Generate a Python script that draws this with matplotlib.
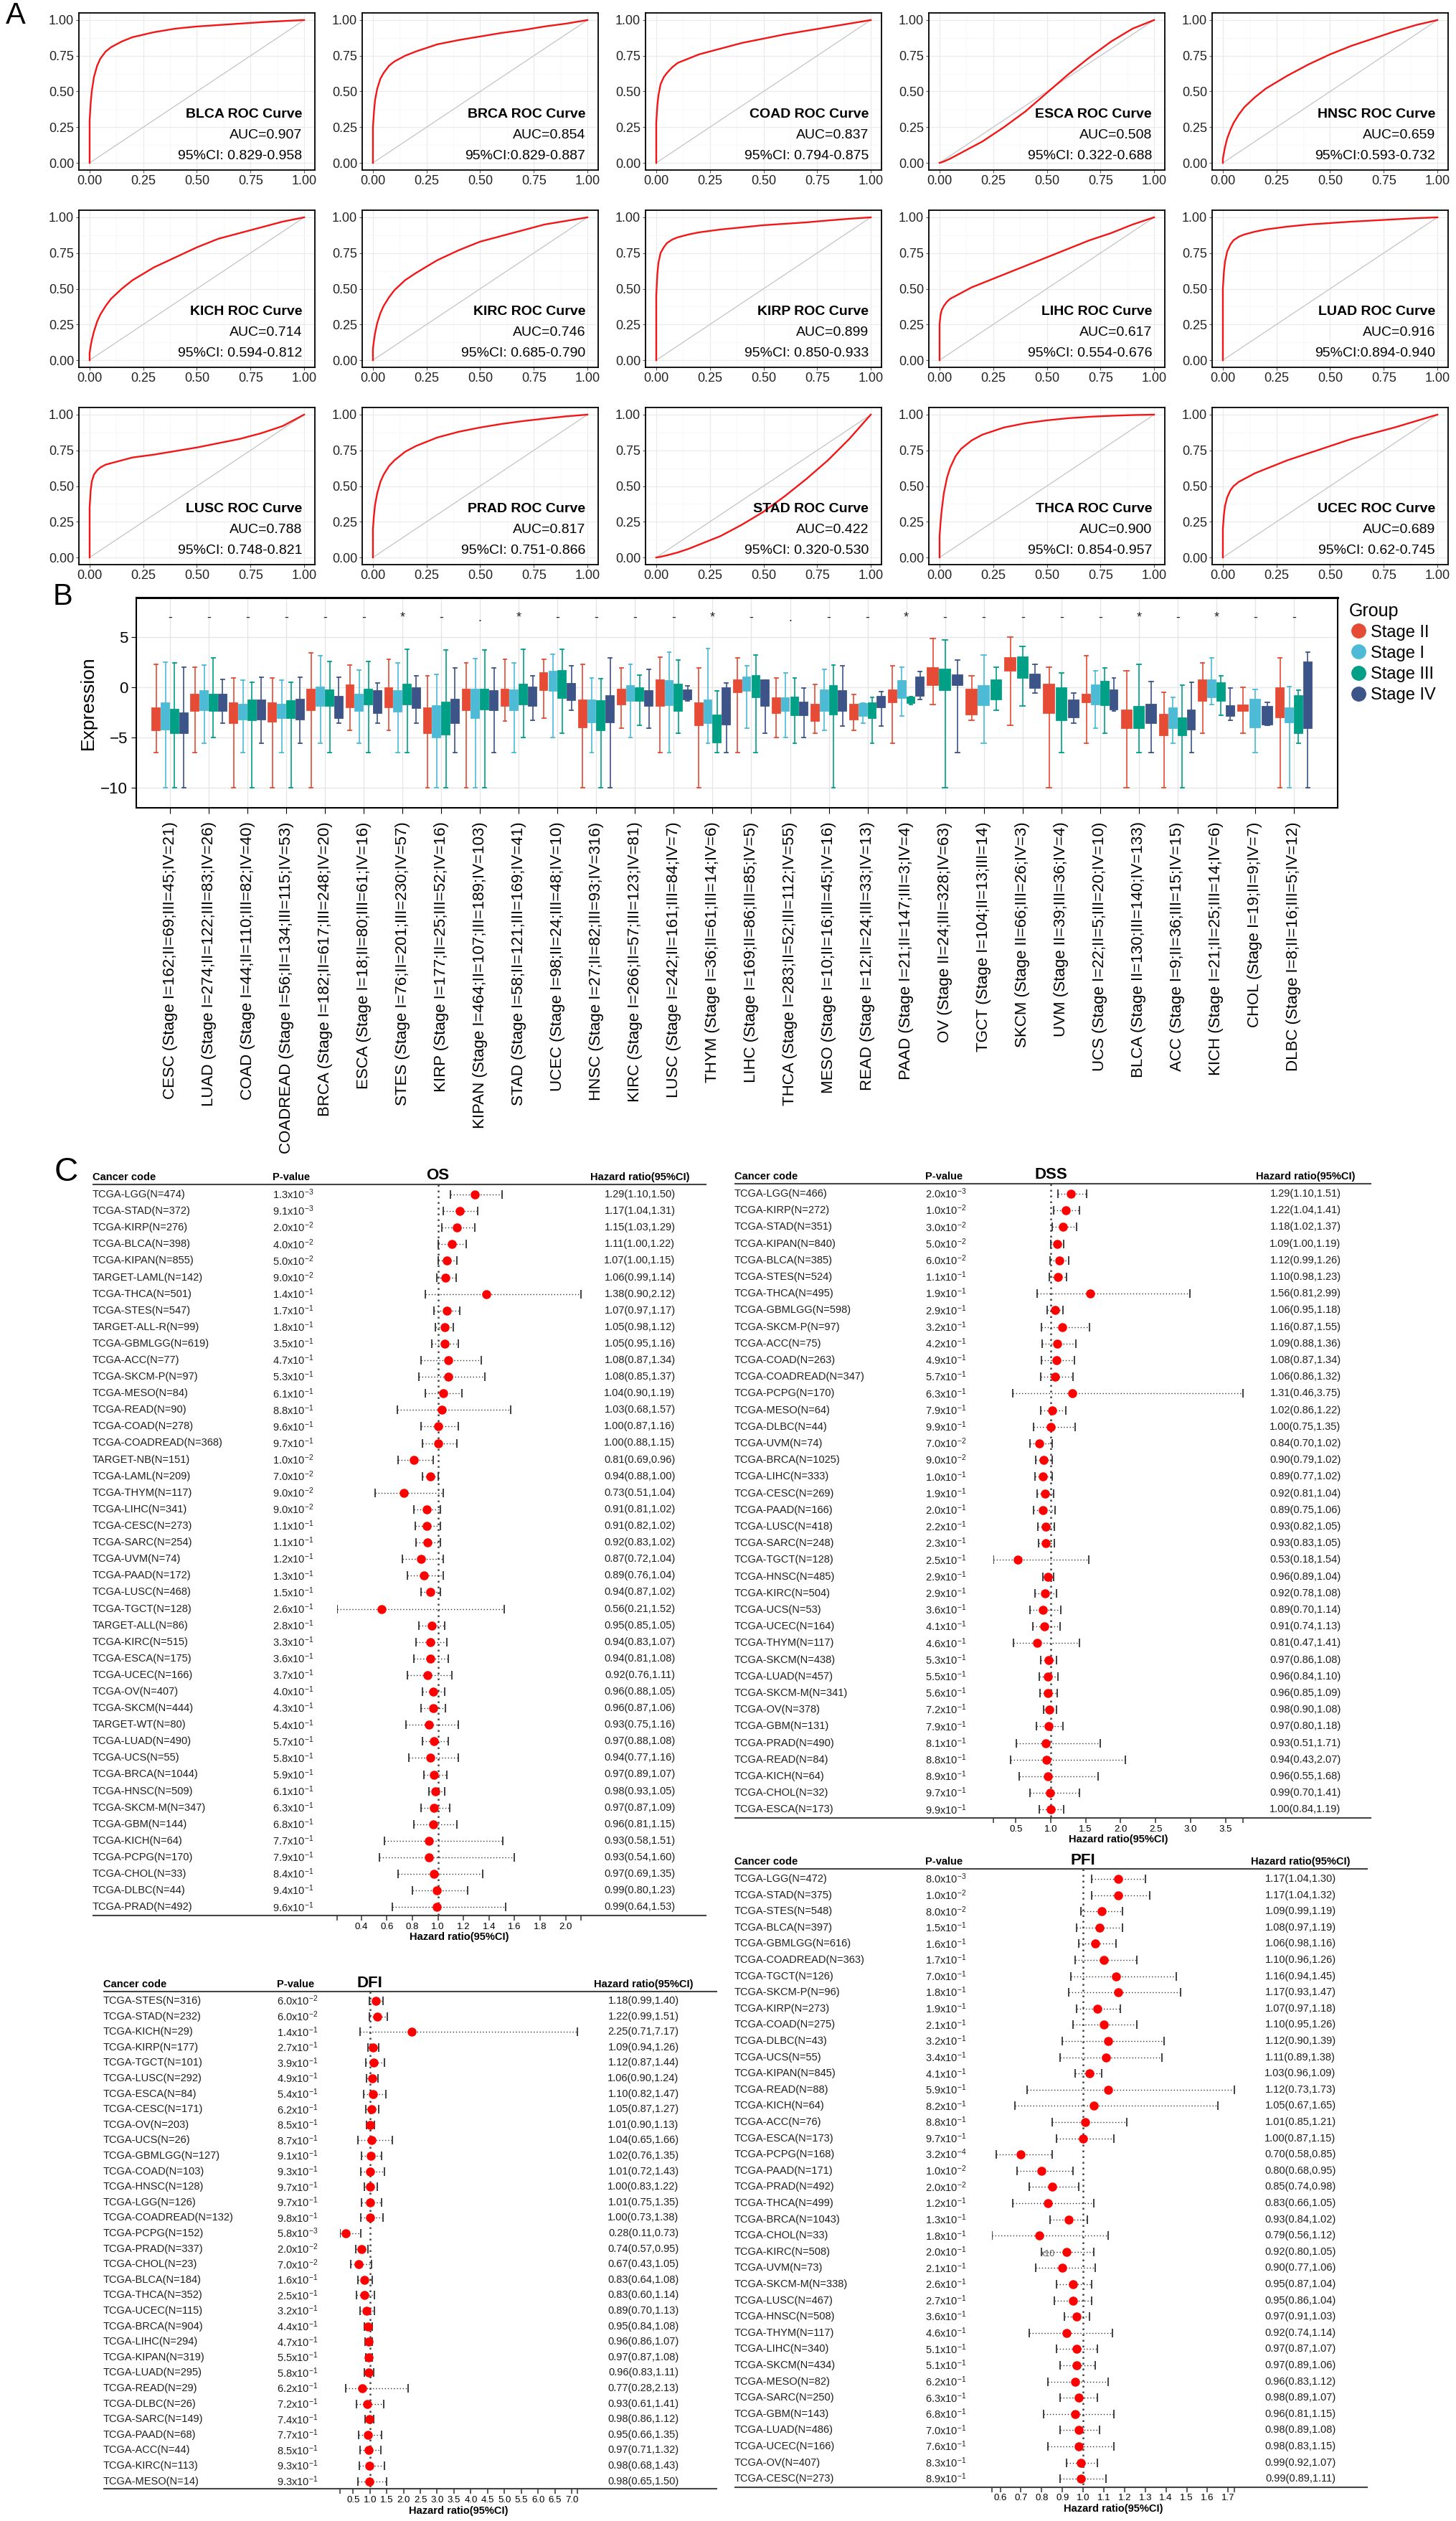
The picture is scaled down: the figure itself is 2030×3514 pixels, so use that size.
import matplotlib
matplotlib.use("Agg")
import matplotlib.pyplot as plt
from matplotlib.lines import Line2D

plt.rcParams['font.family'] = ['Liberation Sans', 'DejaVu Sans']
plt.rcParams['mathtext.fontset'] = 'custom'
plt.rcParams['mathtext.rm'] = 'Liberation Sans'
plt.rcParams['mathtext.default'] = 'regular'

W, H = 2031, 3514

# ---------------- panel A : ROC curves ----------------
roc_names = ["BLCA", "BRCA", "COAD", "ESCA", "HNSC",
             "KICH", "KIRC", "KIRP", "LIHC", "LUAD",
             "LUSC", "PRAD", "STAD", "THCA", "UCEC"]
roc_auc = [0.907, 0.854, 0.837, 0.508, 0.659,
           0.714, 0.746, 0.899, 0.617, 0.916,
           0.788, 0.817, 0.422, 0.900, 0.689]
roc_ci = ["95%CI: 0.829-0.958", "95%CI:0.829-0.887", "95%CI: 0.794-0.875",
          "95%CI: 0.322-0.688", "95%CI:0.593-0.732", "95%CI: 0.594-0.812",
          "95%CI: 0.685-0.790", "95%CI: 0.850-0.933", "95%CI: 0.554-0.676",
          "95%CI:0.894-0.940", "95%CI: 0.748-0.821", "95%CI: 0.751-0.866",
          "95%CI: 0.320-0.530", "95%CI: 0.854-0.957", "95%CI: 0.62-0.745"]
roc_fpr = [0, 0, 0.005, 0.01, 0.02, 0.035, 0.05, 0.075, 0.1, 0.15, 0.2,
           0.3, 0.4, 0.5, 0.6, 0.7, 0.8, 0.9, 1.0]
tpr_blca = [0, 0.30, 0.42, 0.50, 0.60, 0.68, 0.73, 0.78, 0.81, 0.85, 0.88, 0.915, 0.94, 0.955, 0.965, 0.975, 0.985, 0.993, 1]
tpr_brca = [0, 0.25, 0.36, 0.44, 0.52, 0.59, 0.63, 0.68, 0.71, 0.75, 0.78, 0.83, 0.86, 0.885, 0.91, 0.93, 0.955, 0.975, 1]
tpr_coad = [0, 0.28, 0.40, 0.47, 0.55, 0.60, 0.63, 0.67, 0.70, 0.73, 0.76, 0.80, 0.84, 0.87, 0.90, 0.925, 0.95, 0.975, 1]
tpr_esca = [0, 0, 0.002, 0.005, 0.01, 0.02, 0.03, 0.05, 0.07, 0.11, 0.15, 0.25, 0.36, 0.49, 0.62, 0.74, 0.85, 0.94, 1]
tpr_hnsc = [0, 0.03, 0.07, 0.11, 0.17, 0.23, 0.28, 0.34, 0.39, 0.46, 0.52, 0.61, 0.69, 0.76, 0.82, 0.87, 0.92, 0.965, 1]
tpr_kich = [0, 0.05, 0.10, 0.14, 0.20, 0.27, 0.32, 0.38, 0.43, 0.50, 0.56, 0.65, 0.72, 0.79, 0.85, 0.89, 0.93, 0.97, 1]
tpr_kirc = [0, 0.08, 0.14, 0.19, 0.26, 0.33, 0.38, 0.44, 0.49, 0.56, 0.61, 0.70, 0.77, 0.83, 0.87, 0.91, 0.95, 0.975, 1]
tpr_kirp = [0, 0.45, 0.60, 0.68, 0.75, 0.79, 0.82, 0.845, 0.86, 0.88, 0.895, 0.915, 0.93, 0.945, 0.955, 0.965, 0.978, 0.99, 1]
tpr_lihc = [0, 0.25, 0.32, 0.35, 0.38, 0.41, 0.43, 0.45, 0.47, 0.51, 0.54, 0.60, 0.66, 0.72, 0.78, 0.84, 0.89, 0.95, 1]
tpr_luad = [0, 0.50, 0.62, 0.69, 0.76, 0.81, 0.84, 0.865, 0.88, 0.90, 0.915, 0.935, 0.95, 0.96, 0.97, 0.978, 0.986, 0.994, 1]
tpr_lusc = [0, 0.35, 0.47, 0.53, 0.58, 0.61, 0.63, 0.65, 0.66, 0.68, 0.70, 0.72, 0.745, 0.77, 0.80, 0.83, 0.87, 0.92, 1]
tpr_prad = [0, 0.20, 0.30, 0.37, 0.45, 0.53, 0.58, 0.64, 0.68, 0.74, 0.78, 0.84, 0.88, 0.91, 0.935, 0.955, 0.972, 0.988, 1]
tpr_stad = [0, 0, 0.001, 0.002, 0.005, 0.01, 0.015, 0.025, 0.035, 0.06, 0.09, 0.15, 0.23, 0.32, 0.43, 0.55, 0.68, 0.83, 1]
tpr_thca = [0, 0.15, 0.25, 0.33, 0.45, 0.56, 0.63, 0.71, 0.76, 0.82, 0.86, 0.91, 0.94, 0.96, 0.975, 0.985, 0.992, 0.997, 1]
tpr_ucec = [0, 0.20, 0.30, 0.36, 0.42, 0.47, 0.50, 0.53, 0.55, 0.59, 0.62, 0.68, 0.73, 0.78, 0.83, 0.87, 0.91, 0.955, 1]
roc_tpr = [tpr_blca, tpr_brca, tpr_coad, tpr_esca, tpr_hnsc,
           tpr_kich, tpr_kirc, tpr_kirp, tpr_lihc, tpr_luad,
           tpr_lusc, tpr_prad, tpr_stad, tpr_thca, tpr_ucec]

# ---------------- panel B : expression by stage ----------------
b_labels = ["CESC (Stage I=162;II=69;III=45;IV=21)", "LUAD (Stage I=274;II=122;III=83;IV=26)",
            "COAD (Stage I=44;II=110;III=82;IV=40)", "COADREAD (Stage I=56;II=134;III=115;IV=53)",
            "BRCA (Stage I=182;II=617;III=248;IV=20)", "ESCA (Stage I=18;II=80;III=61;IV=16)",
            "STES (Stage I=76;II=201;III=230;IV=57)", "KIRP (Stage I=177;II=25;III=52;IV=16)",
            "KIPAN (Stage I=464;II=107;III=189;IV=103)", "STAD (Stage I=58;II=121;III=169;IV=41)",
            "UCEC (Stage I=98;II=24;III=48;IV=10)", "HNSC (Stage I=27;II=82;III=93;IV=316)",
            "KIRC (Stage I=266;II=57;III=123;IV=81)", "LUSC (Stage I=242;II=161;III=84;IV=7)",
            "THYM (Stage I=36;II=61;III=14;IV=6)", "LIHC (Stage I=169;II=86;III=85;IV=5)",
            "THCA (Stage I=283;II=52;III=112;IV=55)", "MESO (Stage I=10;II=16;III=45;IV=16)",
            "READ (Stage I=12;II=24;III=33;IV=13)", "PAAD (Stage I=21;II=147;III=3;IV=4)",
            "OV (Stage II=24;III=328;IV=63)", "TGCT (Stage I=104;II=13;III=14)",
            "SKCM (Stage II=66;III=26;IV=3)", "UVM (Stage II=39;III=36;IV=4)",
            "UCS (Stage I=22;II=5;III=20;IV=10)", "BLCA (Stage II=130;III=140;IV=133)",
            "ACC (Stage I=9;II=36;III=15;IV=15)", "KICH (Stage I=21;II=25;III=14;IV=6)",
            "CHOL (Stage I=19;II=9;IV=7)", "DLBC (Stage I=8;II=16;III=5;IV=12)"]
b_sig = ["-", "-", "-", "-", "-", "-", "*", "-", ".", "*", "-", "-", "-", "-", "*",
         "-", ".", "-", "-", "*", "-", "-", "-", "-", "-", "*", "-", "*", "-", "-"]
stages = ["Stage II", "Stage I", "Stage III", "Stage IV"]
stage_colors = ["#E64B35", "#4DBBD5", "#00A087", "#3C5488"]
# (lower whisker, q1, median, q3, upper whisker)
box_stage2 = [(-6.5, -4.3, -3.0, -2.1, 2.3), (-6.5, -2.4, -1.5, -0.7, 2.0), (-10, -3.6, -2.6, -1.6, 0.9),
              (-10, -3.45, -2.6, -1.6, 0.9), (-10, -2.3, -1.2, -0.2, 3.4), (-4.3, -2.0, -1.1, 0.2, 2.2),
              (-4.3, -2.0, -1.1, -0.1, 2.8), (-10, -4.6, -3.6, -2.1, 1.1), (-10, -2.3, -1.1, -0.2, 2.4),
              (-3.4, -1.9, -1.1, -0.2, 2.8), (-3.1, -0.3, 0.95, 1.4, 2.8), (-10, -4.0, -2.4, -1.3, 2.3),
              (-4.1, -1.7, -0.9, -0.2, 1.9), (-6.5, -1.9, -0.6, 0.7, 3.0), (-10, -3.8, -2.9, -1.6, 1.9),
              (-6.5, -0.55, 0.2, 0.7, 2.9), (-5.0, -2.6, -1.8, -1.1, 0.9), (-4.6, -3.4, -2.4, -1.7, 0.3),
              (-4.3, -3.2, -2.3, -1.7, -0.7), (-5.6, -1.5, -0.8, -0.3, 2.1), (-1.7, 0.2, 1.1, 1.9, 4.8),
              (-3.3, -2.7, -0.9, -0.2, 1.1), (-3.8, 1.6, 2.1, 2.9, 5.0), (-10, -2.6, -1.1, 0.3, 2.0),
              (-5.6, -1.5, -1.1, -0.7, 3.1), (-10, -4.1, -3.0, -2.3, 1.6), (-10, -4.8, -3.9, -2.7, -0.5),
              (-4.6, -1.4, -0.6, 0.7, 2.4), (-4.6, -2.4, -2.1, -1.8, 0.0), (-10, -3.0, -1.4, -0.1, 2.9)]
box_stage1 = [(-10, -4.2, -2.8, -1.6, 2.5), (-5.6, -2.3, -1.4, -0.35, 2.2), (-6.5, -3.2, -2.5, -1.7, 0.7),
              (-6.5, -3.1, -2.4, -1.7, 0.7), (-5.6, -1.9, -1.1, 0.0, 3.1), (-5.6, -2.4, -1.5, -0.7, 1.7),
              (-6.5, -2.45, -1.4, -0.4, 2.4), (-10, -5.0, -3.7, -1.9, 1.3), (-10, -3.1, -1.2, -0.2, 2.85),
              (-6.5, -2.3, -1.2, -0.3, 2.4), (-5.0, -0.4, 0.7, 1.55, 3.3), (-6.5, -3.5, -2.4, -1.3, 0.9),
              (-5.0, -1.4, -0.5, 0.1, 2.3), (-6.5, -1.8, -0.6, 0.6, 3.5), (-5.6, -3.6, -2.4, -1.3, 3.8),
              (-4.1, -0.4, 0.4, 1.0, 2.1), (-5.0, -2.4, -1.8, -1.1, 1.4), (-4.3, -2.4, -1.6, -0.3, 1.8),
              (-3.6, -2.9, -2.3, -1.65, -1.6), (-2.9, -1.1, -0.2, 0.6, 2.0), None,
              (-5.6, -1.8, -1.0, 0.1, 3.2), None, None,
              (-4.1, -1.7, -0.5, 0.2, 1.6), None, (-5.6, -4.1, -3.3, -2.1, -1.0),
              (-1.7, -1.0, 0.0, 0.7, 2.9), (-6.5, -4.0, -1.9, -1.2, -0.2), (-10, -3.5, -3.1, -2.1, 0.05)]
box_stage3 = [(-10, -4.6, -2.9, -2.2, 2.4), (-5.0, -2.4, -1.4, -0.7, 2.9), (-10, -3.3, -2.1, -1.3, 0.45),
              (-10, -3.1, -2.2, -1.4, 0.45), (-6.5, -1.9, -1.0, -0.3, 2.55), (-6.5, -1.7, -0.95, -0.25, 2.55),
              (-6.5, -1.75, -0.8, 0.3, 3.75), (-10, -4.7, -3.3, -1.5, 3.7), (-10, -2.2, -0.95, -0.2, 3.7),
              (-5.0, -1.7, -0.8, 0.3, 3.75), (-4.6, -1.1, 0.35, 1.6, 3.75), (-10, -4.3, -2.4, -1.4, 0.85),
              (-3.8, -1.4, -0.7, -0.1, 1.2), (-4.6, -2.4, -0.9, 0.25, 2.7), (-6.5, -5.5, -4.5, -2.8, -0.35),
              (-6.5, -1.0, 0.2, 1.1, 3.2), (-5.6, -2.8, -2.1, -1.0, 0.9), (-10, -2.7, -1.6, 0.1, 2.2),
              (-5.6, -3.05, -2.3, -1.6, -1.0), (-1.7, -1.6, -1.26, -1.0, -0.95), (-10, -0.3, 0.9, 1.8, 4.7),
              (-2.3, -1.2, -0.2, 0.7, 1.95), (-1.9, 0.9, 2.3, 3.0, 4.05), (-6.5, -3.3, -1.7, -0.1, 1.4),
              (-4.6, -1.8, -0.1, 0.55, 1.9), (-6.5, -4.1, -2.9, -1.95, 2.3), (-10, -4.8, -4.1, -3.1, 0.2),
              (-2.8, -1.4, -0.2, 0.4, 1.1), None, (-5.6, -4.6, -2.7, -0.9, -0.3)]
box_stage4 = [(-10, -4.6, -3.1, -2.6, 2.0), (-3.6, -2.4, -1.6, -0.7, 0.8), (-5.6, -3.2, -2.4, -1.3, 0.95),
              (-5.6, -3.2, -2.3, -1.25, 0.95), (-3.6, -3.05, -2.1, -0.95, 1.0), (-3.6, -2.55, -1.3, -0.4, 0.4),
              (-3.6, -2.1, -0.95, -0.1, 1.1), (-6.5, -3.6, -2.55, -1.25, 1.9), (-6.5, -2.3, -0.95, -0.35, 1.9),
              (-3.3, -1.9, -0.75, 0.0, 1.1), (-2.3, -1.3, -0.1, 0.35, 2.1), (-10, -3.5, -2.4, -0.9, 2.9),
              (-4.1, -1.85, -0.8, -0.4, 1.8), (-1.4, -1.25, -0.4, -0.3, 0.1), (-6.5, -3.75, -2.0, -0.1, 0.4),
              (-4.6, -1.85, -1.4, 0.7, 0.72), (-5.0, -2.8, -2.1, -1.5, -0.1), (-3.9, -2.4, -1.6, -0.4, 2.1),
              (-3.9, -2.0, -1.55, -0.95, -0.45), (-1.25, -0.9, 0.05, 0.95, 1.55), (-6.5, 0.2, 1.0, 1.2, 2.7),
              None, (-0.6, -0.1, 0.35, 1.3, 2.25), (-3.6, -3.0, -2.4, -1.3, -0.6),
              (-2.4, -2.2, -1.35, -0.3, 0.9), (-6.5, -3.6, -2.55, -1.75, 0.55), (-6.5, -4.25, -2.75, -2.3, 0.45),
              (-3.3, -2.9, -2.2, -1.85, -0.1), (-3.8, -3.7, -2.9, -1.95, -1.5), (-10, -4.1, -1.0, 2.45, 3.5)]
box_by_stage = [box_stage2, box_stage1, box_stage3, box_stage4]

# ---------------- panel C : forest plots ----------------
os_names = ["TCGA-LGG(N=474)", "TCGA-STAD(N=372)", "TCGA-KIRP(N=276)", "TCGA-BLCA(N=398)", "TCGA-KIPAN(N=855)",
            "TARGET-LAML(N=142)", "TCGA-THCA(N=501)", "TCGA-STES(N=547)", "TARGET-ALL-R(N=99)", "TCGA-GBMLGG(N=619)",
            "TCGA-ACC(N=77)", "TCGA-SKCM-P(N=97)", "TCGA-MESO(N=84)", "TCGA-READ(N=90)", "TCGA-COAD(N=278)",
            "TCGA-COADREAD(N=368)", "TARGET-NB(N=151)", "TCGA-LAML(N=209)", "TCGA-THYM(N=117)", "TCGA-LIHC(N=341)",
            "TCGA-CESC(N=273)", "TCGA-SARC(N=254)", "TCGA-UVM(N=74)", "TCGA-PAAD(N=172)", "TCGA-LUSC(N=468)",
            "TCGA-TGCT(N=128)", "TARGET-ALL(N=86)", "TCGA-KIRC(N=515)", "TCGA-ESCA(N=175)", "TCGA-UCEC(N=166)",
            "TCGA-OV(N=407)", "TCGA-SKCM(N=444)", "TARGET-WT(N=80)", "TCGA-LUAD(N=490)", "TCGA-UCS(N=55)",
            "TCGA-BRCA(N=1044)", "TCGA-HNSC(N=509)", "TCGA-SKCM-M(N=347)", "TCGA-GBM(N=144)", "TCGA-KICH(N=64)",
            "TCGA-PCPG(N=170)", "TCGA-CHOL(N=33)", "TCGA-DLBC(N=44)", "TCGA-PRAD(N=492)"]
os_p = [1.3e-3, 9.1e-3, 2.0e-2, 4.0e-2, 5.0e-2, 9.0e-2, 1.4e-1, 1.7e-1, 1.8e-1, 3.5e-1, 4.7e-1, 5.3e-1,
        6.1e-1, 8.8e-1, 9.6e-1, 9.7e-1, 1.0e-2, 7.0e-2, 9.0e-2, 9.0e-2, 1.1e-1, 1.1e-1, 1.2e-1, 1.3e-1,
        1.5e-1, 2.6e-1, 2.8e-1, 3.3e-1, 3.6e-1, 3.7e-1, 4.0e-1, 4.3e-1, 5.4e-1, 5.7e-1, 5.8e-1, 5.9e-1,
        6.1e-1, 6.3e-1, 6.8e-1, 7.7e-1, 7.9e-1, 8.4e-1, 9.4e-1, 9.6e-1]
os_hr = [1.29, 1.17, 1.15, 1.11, 1.07, 1.06, 1.38, 1.07, 1.05, 1.05, 1.08, 1.08, 1.04, 1.03, 1.00, 1.00,
         0.81, 0.94, 0.73, 0.91, 0.91, 0.92, 0.87, 0.89, 0.94, 0.56, 0.95, 0.94, 0.94, 0.92, 0.96, 0.96,
         0.93, 0.97, 0.94, 0.97, 0.98, 0.97, 0.96, 0.93, 0.93, 0.97, 0.99, 0.99]
os_lo = [1.10, 1.04, 1.03, 1.00, 1.00, 0.99, 0.90, 0.97, 0.98, 0.95, 0.87, 0.85, 0.90, 0.68, 0.87, 0.88,
         0.69, 0.88, 0.51, 0.81, 0.82, 0.83, 0.72, 0.76, 0.87, 0.21, 0.85, 0.83, 0.81, 0.76, 0.88, 0.87,
         0.75, 0.88, 0.77, 0.89, 0.93, 0.87, 0.81, 0.58, 0.54, 0.69, 0.80, 0.64]
os_hi = [1.50, 1.31, 1.29, 1.22, 1.15, 1.14, 2.12, 1.17, 1.12, 1.16, 1.34, 1.37, 1.19, 1.57, 1.16, 1.15,
         0.96, 1.00, 1.04, 1.02, 1.02, 1.02, 1.04, 1.04, 1.02, 1.52, 1.05, 1.07, 1.08, 1.11, 1.05, 1.06,
         1.16, 1.08, 1.16, 1.07, 1.05, 1.09, 1.15, 1.51, 1.60, 1.35, 1.23, 1.53]

dss_names = ["TCGA-LGG(N=466)", "TCGA-KIRP(N=272)", "TCGA-STAD(N=351)", "TCGA-KIPAN(N=840)", "TCGA-BLCA(N=385)",
             "TCGA-STES(N=524)", "TCGA-THCA(N=495)", "TCGA-GBMLGG(N=598)", "TCGA-SKCM-P(N=97)", "TCGA-ACC(N=75)",
             "TCGA-COAD(N=263)", "TCGA-COADREAD(N=347)", "TCGA-PCPG(N=170)", "TCGA-MESO(N=64)", "TCGA-DLBC(N=44)",
             "TCGA-UVM(N=74)", "TCGA-BRCA(N=1025)", "TCGA-LIHC(N=333)", "TCGA-CESC(N=269)", "TCGA-PAAD(N=166)",
             "TCGA-LUSC(N=418)", "TCGA-SARC(N=248)", "TCGA-TGCT(N=128)", "TCGA-HNSC(N=485)", "TCGA-KIRC(N=504)",
             "TCGA-UCS(N=53)", "TCGA-UCEC(N=164)", "TCGA-THYM(N=117)", "TCGA-SKCM(N=438)", "TCGA-LUAD(N=457)",
             "TCGA-SKCM-M(N=341)", "TCGA-OV(N=378)", "TCGA-GBM(N=131)", "TCGA-PRAD(N=490)", "TCGA-READ(N=84)",
             "TCGA-KICH(N=64)", "TCGA-CHOL(N=32)", "TCGA-ESCA(N=173)"]
dss_p = [2.0e-3, 1.0e-2, 3.0e-2, 5.0e-2, 6.0e-2, 1.1e-1, 1.9e-1, 2.9e-1, 3.2e-1, 4.2e-1, 4.9e-1, 5.7e-1,
         6.3e-1, 7.9e-1, 9.9e-1, 7.0e-2, 9.0e-2, 1.0e-1, 1.9e-1, 2.0e-1, 2.2e-1, 2.3e-1, 2.5e-1, 2.9e-1,
         2.9e-1, 3.6e-1, 4.1e-1, 4.6e-1, 5.3e-1, 5.5e-1, 5.6e-1, 7.2e-1, 7.9e-1, 8.1e-1, 8.8e-1, 8.9e-1,
         9.7e-1, 9.9e-1]
dss_hr = [1.29, 1.22, 1.18, 1.09, 1.12, 1.10, 1.56, 1.06, 1.16, 1.09, 1.08, 1.06, 1.31, 1.02, 1.00, 0.84,
          0.90, 0.89, 0.92, 0.89, 0.93, 0.93, 0.53, 0.96, 0.92, 0.89, 0.91, 0.81, 0.97, 0.96, 0.96, 0.98,
          0.97, 0.93, 0.94, 0.96, 0.99, 1.00]
dss_lo = [1.10, 1.04, 1.02, 1.00, 0.99, 0.98, 0.81, 0.95, 0.87, 0.88, 0.87, 0.86, 0.46, 0.86, 0.75, 0.70,
          0.79, 0.77, 0.81, 0.75, 0.82, 0.83, 0.18, 0.89, 0.78, 0.70, 0.74, 0.47, 0.86, 0.84, 0.85, 0.90,
          0.80, 0.51, 0.43, 0.55, 0.70, 0.84]
dss_hi = [1.51, 1.41, 1.37, 1.19, 1.26, 1.23, 2.99, 1.18, 1.55, 1.36, 1.34, 1.32, 3.75, 1.22, 1.35, 1.02,
          1.02, 1.02, 1.04, 1.06, 1.05, 1.05, 1.54, 1.04, 1.08, 1.14, 1.13, 1.41, 1.08, 1.10, 1.09, 1.08,
          1.18, 1.71, 2.07, 1.68, 1.41, 1.19]

dfi_names = ["TCGA-STES(N=316)", "TCGA-STAD(N=232)", "TCGA-KICH(N=29)", "TCGA-KIRP(N=177)", "TCGA-TGCT(N=101)",
             "TCGA-LUSC(N=292)", "TCGA-ESCA(N=84)", "TCGA-CESC(N=171)", "TCGA-OV(N=203)", "TCGA-UCS(N=26)",
             "TCGA-GBMLGG(N=127)", "TCGA-COAD(N=103)", "TCGA-HNSC(N=128)", "TCGA-LGG(N=126)", "TCGA-COADREAD(N=132)",
             "TCGA-PCPG(N=152)", "TCGA-PRAD(N=337)", "TCGA-CHOL(N=23)", "TCGA-BLCA(N=184)", "TCGA-THCA(N=352)",
             "TCGA-UCEC(N=115)", "TCGA-BRCA(N=904)", "TCGA-LIHC(N=294)", "TCGA-KIPAN(N=319)", "TCGA-LUAD(N=295)",
             "TCGA-READ(N=29)", "TCGA-DLBC(N=26)", "TCGA-SARC(N=149)", "TCGA-PAAD(N=68)", "TCGA-ACC(N=44)",
             "TCGA-KIRC(N=113)", "TCGA-MESO(N=14)"]
dfi_p = [6.0e-2, 6.0e-2, 1.4e-1, 2.7e-1, 3.9e-1, 4.9e-1, 5.4e-1, 6.2e-1, 8.5e-1, 8.7e-1, 9.1e-1, 9.3e-1,
         9.7e-1, 9.7e-1, 9.8e-1, 5.8e-3, 2.0e-2, 7.0e-2, 1.6e-1, 2.5e-1, 3.2e-1, 4.4e-1, 4.7e-1, 5.5e-1,
         5.8e-1, 6.2e-1, 7.2e-1, 7.4e-1, 7.7e-1, 8.5e-1, 9.3e-1, 9.3e-1]
dfi_hr = [1.18, 1.22, 2.25, 1.09, 1.12, 1.06, 1.10, 1.05, 1.01, 1.04, 1.02, 1.01, 1.00, 1.01, 1.00, 0.28,
          0.74, 0.67, 0.83, 0.83, 0.89, 0.95, 0.96, 0.97, 0.96, 0.77, 0.93, 0.98, 0.95, 0.97, 0.98, 0.98]
dfi_lo = [0.99, 0.99, 0.71, 0.94, 0.87, 0.90, 0.82, 0.87, 0.90, 0.65, 0.76, 0.72, 0.83, 0.75, 0.73, 0.11,
          0.57, 0.43, 0.64, 0.60, 0.70, 0.84, 0.86, 0.87, 0.83, 0.28, 0.61, 0.86, 0.66, 0.71, 0.68, 0.65]
dfi_hi = [1.40, 1.51, 7.17, 1.26, 1.44, 1.24, 1.47, 1.27, 1.13, 1.66, 1.35, 1.43, 1.22, 1.35, 1.38, 0.73,
          0.95, 1.05, 1.08, 1.14, 1.13, 1.08, 1.07, 1.08, 1.11, 2.13, 1.41, 1.12, 1.35, 1.32, 1.43, 1.50]

pfi_names = ["TCGA-LGG(N=472)", "TCGA-STAD(N=375)", "TCGA-STES(N=548)", "TCGA-BLCA(N=397)", "TCGA-GBMLGG(N=616)",
             "TCGA-COADREAD(N=363)", "TCGA-TGCT(N=126)", "TCGA-SKCM-P(N=96)", "TCGA-KIRP(N=273)", "TCGA-COAD(N=275)",
             "TCGA-DLBC(N=43)", "TCGA-UCS(N=55)", "TCGA-KIPAN(N=845)", "TCGA-READ(N=88)", "TCGA-KICH(N=64)",
             "TCGA-ACC(N=76)", "TCGA-ESCA(N=173)", "TCGA-PCPG(N=168)", "TCGA-PAAD(N=171)", "TCGA-PRAD(N=492)",
             "TCGA-THCA(N=499)", "TCGA-BRCA(N=1043)", "TCGA-CHOL(N=33)", "TCGA-KIRC(N=508)", "TCGA-UVM(N=73)",
             "TCGA-SKCM-M(N=338)", "TCGA-LUSC(N=467)", "TCGA-HNSC(N=508)", "TCGA-THYM(N=117)", "TCGA-LIHC(N=340)",
             "TCGA-SKCM(N=434)", "TCGA-MESO(N=82)", "TCGA-SARC(N=250)", "TCGA-GBM(N=143)", "TCGA-LUAD(N=486)",
             "TCGA-UCEC(N=166)", "TCGA-OV(N=407)", "TCGA-CESC(N=273)"]
pfi_p = [8.0e-3, 1.0e-2, 8.0e-2, 1.5e-1, 1.6e-1, 1.7e-1, 7.0e-1, 1.8e-1, 1.9e-1, 2.1e-1, 3.2e-1, 3.4e-1,
         4.1e-1, 5.9e-1, 8.2e-1, 8.8e-1, 9.7e-1, 3.2e-4, 1.0e-2, 2.0e-2, 1.2e-1, 1.3e-1, 1.8e-1, 2.0e-1,
         2.1e-1, 2.6e-1, 2.7e-1, 3.6e-1, 4.6e-1, 5.1e-1, 5.1e-1, 6.2e-1, 6.3e-1, 6.8e-1, 7.0e-1, 7.6e-1,
         8.3e-1, 8.9e-1]
pfi_hr = [1.17, 1.17, 1.09, 1.08, 1.06, 1.10, 1.16, 1.17, 1.07, 1.10, 1.12, 1.11, 1.03, 1.12, 1.05, 1.01,
          1.00, 0.70, 0.80, 0.85, 0.83, 0.93, 0.79, 0.92, 0.90, 0.95, 0.95, 0.97, 0.92, 0.97, 0.97, 0.96,
          0.98, 0.96, 0.98, 0.98, 0.99, 0.99]
pfi_lo = [1.04, 1.04, 0.99, 0.97, 0.98, 0.96, 0.94, 0.93, 0.97, 0.95, 0.90, 0.89, 0.96, 0.73, 0.67, 0.85,
          0.87, 0.58, 0.68, 0.74, 0.66, 0.84, 0.56, 0.80, 0.77, 0.87, 0.86, 0.91, 0.74, 0.87, 0.89, 0.83,
          0.89, 0.81, 0.89, 0.83, 0.92, 0.89]
pfi_hi = [1.30, 1.32, 1.19, 1.19, 1.16, 1.26, 1.45, 1.47, 1.18, 1.26, 1.39, 1.38, 1.09, 1.73, 1.65, 1.21,
          1.15, 0.85, 0.95, 0.98, 1.05, 1.02, 1.12, 1.05, 1.06, 1.04, 1.04, 1.03, 1.14, 1.07, 1.06, 1.12,
          1.07, 1.15, 1.08, 1.15, 1.07, 1.11]

fig = plt.figure(figsize=(W / 100, H / 100), dpi=100)


def rect(x0, y0, x1, y1):
    # pixel box (top-left origin) -> figure fraction
    return [x0 / W, 1 - y1 / H, (x1 - x0) / W, (y1 - y0) / H]


# ---- A ----
ticks = [0, 0.25, 0.5, 0.75, 1.0]
for k, name in enumerate(roc_names):
    r, c = divmod(k, 5)
    ax = fig.add_axes(rect(110 + 395 * c, 18 + 275 * r, 439 + 395 * c, 237 + 275 * r))
    ax.plot([0, 1], [0, 1], color="#C4C4C4", lw=0.9)
    ax.plot(roc_fpr, roc_tpr[k], color="#F21616", lw=1.7)
    ax.set_xlim(-0.05, 1.05)
    ax.set_ylim(-0.05, 1.05)
    ax.set_xticks(ticks)
    ax.set_yticks(ticks)
    ax.set_xticklabels(["%.2f" % t for t in ticks])
    ax.set_yticklabels(["%.2f" % t for t in ticks])
    ax.set_xticks([0.125, 0.375, 0.625, 0.875], minor=True)
    ax.set_yticks([0.125, 0.375, 0.625, 0.875], minor=True)
    ax.grid(which="major", color="#EBEBEB", lw=0.9)
    ax.grid(which="minor", color="#F5F5F5", lw=0.5)
    ax.set_axisbelow(True)
    ax.tick_params(labelsize=13, length=3, color="#555555", pad=2, labelcolor="#222222")
    ax.tick_params(which="minor", length=0)
    for s in ax.spines.values():
        s.set_color("black")
        s.set_linewidth(1.3)
    ax.text(0.99, 0.34, name + " ROC Curve", ha="right", va="center", fontsize=14, fontweight="bold")
    ax.text(0.99, 0.195, "AUC=%.3f" % roc_auc[k], ha="right", va="center", fontsize=14)
    ax.text(0.99, 0.05, roc_ci[k], ha="right", va="center", fontsize=14)

# ---- B ----
axb = fig.add_axes(rect(190, 833, 1865, 1126))
ncat = len(b_labels)
for ci in range(ncat):
    present = [s for s in range(4) if box_by_stage[s][ci] is not None]
    m = len(present)
    step = 0.95 / m
    bw = step * 0.84
    for j, s in enumerate(present):
        lo, q1, med, q3, hi = box_by_stage[s][ci]
        col = stage_colors[s]
        pos = ci + (j - (m - 1) / 2) * step
        axb.bxp([dict(whislo=lo, q1=q1, med=med, q3=q3, whishi=hi, fliers=[])],
                positions=[pos], widths=bw, capwidths=bw * 0.45, patch_artist=True,
                showfliers=False, manage_ticks=False,
                boxprops=dict(facecolor=col, edgecolor=col, alpha=1.0, lw=1.3),
                whiskerprops=dict(color=col, lw=1.2), capprops=dict(color=col, lw=1.3),
                medianprops=dict(color=col, lw=1.6))
    axb.text(ci, 6.9, b_sig[ci], ha="center", va="center", fontsize=13, color="#222222")
for p in axb.patches:
    fc = p.get_facecolor()
    p.set_facecolor((fc[0], fc[1], fc[2], 0.55))
axb.set_xlim(-0.87, ncat - 1 + 1.13)
axb.set_ylim(-12, 8.9)
axb.set_yticks([-10, -5, 0, 5])
axb.set_xticks(range(ncat))
axb.set_xticklabels(b_labels, rotation=90, fontsize=16)
axb.tick_params(axis="y", labelsize=16, length=5)
axb.tick_params(axis="x", length=6, pad=8)
axb.grid(True, color="#E6E6E6", lw=1.0)
axb.set_axisbelow(True)
for s in axb.spines.values():
    s.set_color("black")
    s.set_linewidth(1.5)
axb.spines["top"].set_linewidth(2.2)
axb.set_ylabel("Expression", fontsize=19, labelpad=4)
handles = [Line2D([], [], marker="o", ls="none", color=c, ms=14) for c in stage_colors]
axb.legend(handles, stages, title="Group", loc="upper left", bbox_to_anchor=(1.004, 1.01),
           frameon=False, fontsize=17, title_fontsize=18, handletextpad=0.15, labelspacing=0.3,
           borderaxespad=0, alignment="left", handlelength=1.1)


# ---- C ----
def pfmt(p):
    mant, ex = ("%.1e" % p).split("e")
    return "%sx10$^{%d}$" % (mant, int(ex))


def forest(names, pv, hr, lo, hi, title, tick_vals, x_name, x_p, x_hr, x_end,
           plot_x0, plot_x1, first_y, pitch):
    n = len(names)
    rows = list(range(n))
    top_row = -1.7
    y0 = first_y + top_row * pitch
    y1 = first_y + (n - 0.5) * pitch
    tab = fig.add_axes(rect(x_name, y0, x_end, y1))
    tab.set_xlim(x_name, x_end)
    tab.set_ylim(n - 0.5, top_row)
    tab.axis("off")
    tc = "#1E1E1E"
    for i in rows:
        tab.text(x_name, i, names[i], ha="left", va="center", fontsize=10.5, color=tc)
        tab.text(x_p, i, pfmt(pv[i]), ha="left", va="center", fontsize=10.5, color=tc)
        tab.text(x_hr, i, "%.2f(%.2f,%.2f)" % (hr[i], lo[i], hi[i]), ha="center", va="center",
                 fontsize=10.5, color=tc)
    tab.text(x_name, -1.05, "Cancer code", ha="left", va="center", fontsize=10.5, fontweight="bold")
    tab.text(x_p, -1.05, "P-value", ha="left", va="center", fontsize=10.5, fontweight="bold")
    tab.text(x_hr, -1.05, "Hazard ratio(95%CI)", ha="center", va="center", fontsize=10.5,
             fontweight="bold")
    tab.hlines([-0.62, n - 0.5], x_name, x_end, color="#444444", lw=1.5, clip_on=False)

    fa = fig.add_axes(rect(plot_x0, y0, plot_x1, y1))
    fa.patch.set_visible(False)
    xmin, xmax = min(lo), max(hi)
    fa.set_xlim(xmin, xmax)
    fa.set_ylim(n - 0.5, top_row)
    for side in ["top", "left", "right", "bottom"]:
        fa.spines[side].set_visible(False)
    fa.set_yticks([])
    fa.vlines(1.0, -0.62, n - 0.5, colors="#444444", linestyles=(0, (1, 2.2)), lw=1.8)
    fa.hlines(rows, lo, hi, colors="#333333", linestyles=(0, (1, 2)), lw=1.0)
    fa.plot(lo, rows, ls="none", marker="|", ms=8, mew=1.3, color="#333333")
    fa.plot(hi, rows, ls="none", marker="|", ms=8, mew=1.3, color="#333333")
    fa.plot(hr, rows, ls="none", marker="o", ms=8, color="#FF0000", zorder=3)
    fa.set_xticks([xmin] + tick_vals + [xmax])
    fa.set_xticklabels([""] + ["%.1f" % t for t in tick_vals] + [""])
    fa.tick_params(axis="x", length=5, width=1.1, labelsize=9.5, pad=2, color="#333333")
    fa.set_xlabel("Hazard ratio(95%CI)", fontsize=10.5, fontweight="bold", labelpad=1)
    fa.text(1.0, -1.15, title, ha="center", va="center", fontsize=16, fontweight="bold")
    return fa


forest(os_names, os_p, os_hr, os_lo, os_hi, "OS", [0.4, 0.6, 0.8, 1.0, 1.2, 1.4, 1.6, 1.8, 2.0],
       129, 380, 892, 985, 470, 810, 1665, 23.1)
forest(dss_names, dss_p, dss_hr, dss_lo, dss_hi, "DSS", [0.5, 1.0, 1.5, 2.0, 2.5, 3.0, 3.5],
       1024, 1290, 1820, 1912, 1385, 1733, 1664, 23.2)
forest(dfi_names, dfi_p, dfi_hr, dfi_lo, dfi_hi, "DFI",
       [0.5, 1.0, 1.5, 2.0, 2.5, 3.0, 3.5, 4.0, 4.5, 5.0, 5.5, 6.0, 6.5, 7.0],
       144, 386, 897, 1000, 474, 805, 2789, 21.6)
pfa = forest(pfi_names, pfi_p, pfi_hr, pfi_lo, pfi_hi, "PFI",
             [0.6, 0.7, 0.8, 0.9, 1.0, 1.1, 1.2, 1.3, 1.4, 1.5, 1.6, 1.7],
             1024, 1290, 1813, 1907, 1383, 1721, 2619, 22.6)
pfa.text(0.83, pfi_names.index("TCGA-KIRC(N=508)") + 0.15, "x10", ha="center", va="center",
         fontsize=9, color="#555555")

fig.text(8 / W, 1 - 2 / H, "A", fontsize=30, va="top", ha="left")
fig.text(74 / W, 1 - 812 / H, "B", fontsize=30, va="top", ha="left")
fig.text(76 / W, 1 - 1612 / H, "C", fontsize=33, va="top", ha="left")

fig.savefig("out.png", dpi=100, facecolor="white")
